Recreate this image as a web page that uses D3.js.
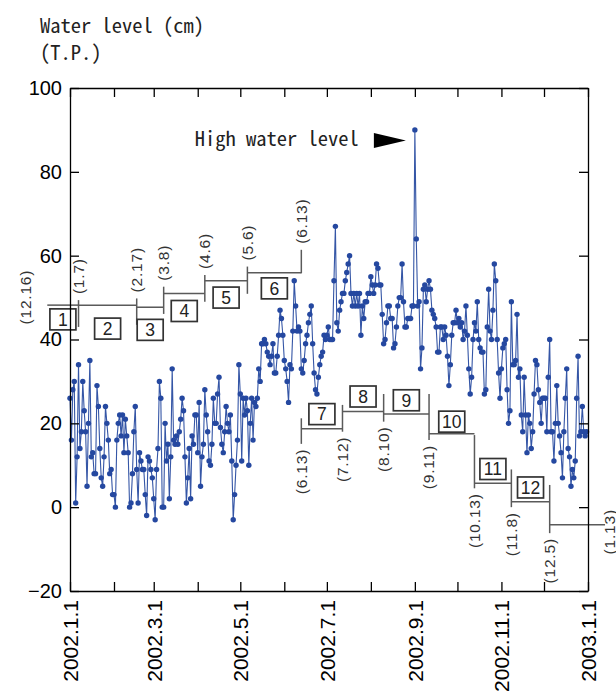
<!DOCTYPE html>
<html>
<head>
<meta charset="utf-8">
<script src="https://cdn.jsdelivr.net/npm/d3@7"></script>
<style>
  body { margin: 0; background: #fff; }
  .mono { font-family: "Noto Sans Mono CJK JP", "Noto Sans CJK JP", "DejaVu Sans Mono", monospace; }
  .date { font-family: "Liberation Sans", Arial, sans-serif; letter-spacing: 0.8px; }
</style>
</head>
<body>
<div id="chart"></div>
<script>
// Daily water level (cm, T.P.), one value per day starting 2002.1.1
const startDate = "2002-01-01";
const levelsJanMar = [
  26, 16, 28, 30, 1, 12, 34, 14, 18, 30,
  23, 18, 5, 20, 35, 12, 13, 8, 8, 29,
  24, 14, 7, 5, 12, 24, 20, 16, 8, 9,
  3, 3, 0, 16, 20, 22, 17, 22, 13, 21,
  17, 13, 0, 1, 8, 18, 24, 9, 1, 13,
  11, 9, 9, 3, -2, 12, 11, 9, 7, 2,
  -3, 9, 14, 30, 26, 0, 0, 20, 11, 15,
  2, 12, 33, 16, 15, 17, 15, 18, 21, 26,
  23, 12, 1, 7, 14, 2, 17, 15, 22
];
const levelsAprJun = [
  22, 13, 25, 5, 12, 15, 28, 22, 18, 11,
  10, 15, 26, 20, 20, 27, 31, 19, 15, 13,
  18, 24, 20, 18, 22, 11, -3, 3, 10, 16,
  34, 27, 11, 26, 22, 26, 23, 10, 20, 26,
  16, 25, 24, 26, 33, 30, 39, 39,
  40, 39, 37, 36, 34, 36, 39, 32,
  32, 36, 41, 47, 45, 41, 35, 33, 30,
  25, 34, 33, 42, 54, 48, 42, 43, 42, 33,
  32, 35, 39, 41, 44, 46, 48, 39, 32, 28,
  27, 31, 34, 36, 37, 41, 40, 41
];
const levelsJulSep = [
  43, 40, 40, 40, 54, 67, 44, 42, 47, 49,
  51, 51, 54, 56, 58, 60, 51, 48,
  51, 48, 51, 48, 51, 41, 48, 45, 49,
  49, 51, 51, 55, 53, 51, 53, 58, 57,
  53, 53, 46, 39, 40, 44, 48, 48, 45, 45,
  38, 39, 43, 48, 50, 50, 58, 49, 43, 43,
  45, 45, 45, 48, 48, 90, 64, 48, 49,
  33, 38, 52, 53, 49, 52, 54, 52, 47, 46,
  45, 43, 37, 37, 43, 43, 40, 43, 41,
  36, 29, 34, 41, 44, 44, 47, 44, 45, 43
];
const levelsOctDec = [
  44, 40, 42, 48, 41, 33, 27, 31, 40, 44,
  42, 49, 40, 38, 37, 37, 27, 28, 43, 52,
  42, 40, 47, 58, 54, 40, 32, 26, 33,
  38, 39, 40, 28, 20, 23, 49, 34, 34,
  35, 46, 31, 33, 22, 18, 31, 22, 13,
  22, 20, 14, 18, 27, 35, 34, 28, 25, 20,
  26, 26, 26, 18, 31, 40, 18, 18, 11,
  20, 29, 20, 17, 13, 7, 18, 26, 33,
  14, 12, 5, 9, 7, 11, 26, 36, 17, 18,
  24, 18, 17, 18
];

// Step annotation: period boundaries, level of each period, boxed numbers
const periodBounds = ["2001-12-16", "2002-01-07", "2002-02-17", "2002-03-08", "2002-04-06",
  "2002-05-06", "2002-06-13", "2002-07-12", "2002-08-10", "2002-09-11", "2002-10-13",
  "2002-11-08", "2002-12-05", "2003-01-13"];
const periodLevels = [48.2, 48.2, 47.7, 51.0, 54.0, 55.9, 18.7, 22.8, 22.2, 17.5, 5.7, 1.3, -4.2];
const boxNumbers = ["1", "2", "3", "4", "5", "6", "7", "8", "9", "10", "11", "12"];
const boxLevels = [44.8, 42.6, 42.3, 46.8, 50.0, 52.2, 22.2, 26.4, 25.5, 20.4, 9.1, 4.7];

// Vertical marks at the boundaries with their date labels
const markDates = ["2002-01-07", "2002-02-17", "2002-03-08", "2002-04-06", "2002-05-06", "2002-06-13",
  "2002-06-13", "2002-07-12", "2002-08-10", "2002-09-11", "2002-10-13", "2002-11-08", "2002-12-05"];
const markTops = [49.4, 49.8, 52.6, 55.4, 57.4, 61.4, 21.2, 24.4, 27.0, 27.0, 17.2, 9.0, 5.3];
const markBottoms = [43.0, 43.5, 46.1, 49.0, 50.9, 55.8, 15.1, 18.0, 20.4, 16.0, 4.5, 0.0, -6.2];
const markLabels = ["(1.7)", "(2.17)", "(3.8)", "(4.6)", "(5.6)", "(6.13)",
  "(6.13)", "(7.12)", "(8.10)", "(9.11)", "(10.13)", "(11.8)", "(12.5)"];
const markSides = ["up", "up", "up", "up", "up", "up", "down", "down", "down", "down", "down", "down", "down"];
const firstLabel = "(12.16)";
const lastLabel = "(1.13)";

// Axes
const xDomain = ["2002-01-01", "2003-01-01"];
const xLabelDates = ["2002-01-01", "2002-03-01", "2002-05-01", "2002-07-01", "2002-09-01", "2002-11-01", "2003-01-01"];
const xLabels = ["2002.1.1", "2002.3.1", "2002.5.1", "2002.7.1", "2002.9.1", "2002.11.1", "2003.1.1"];
const yTicks = [-20, 0, 20, 40, 60, 80, 100];
const yTitle = ["Water level (cm)", "(T.P.)"];
const highWaterText = "High water level";

const parseDate = d3.timeParse("%Y-%m-%d");
const start = parseDate(startDate);
const levels = [].concat(levelsJanMar, levelsAprJun, levelsJulSep, levelsOctDec);
const data = levels.map((v, i) => ({ date: d3.timeDay.offset(start, i), value: v }));

const margin = { top: 88, right: 28, bottom: 102, left: 70 };
const width = 616 - margin.left - margin.right;
const height = 693 - margin.top - margin.bottom;

const root = d3.select("#chart").append("svg")
  .attr("width", 616)
  .attr("height", 693);

const svg = root.append("g")
  .attr("transform", `translate(${margin.left},${margin.top})`);

const x = d3.scaleTime().domain(xDomain.map(parseDate)).range([0, width]);
const y = d3.scaleLinear().domain([-20, 100]).range([height, 0]);

// Title (two lines in one text)
const title = root.append("text")
  .attr("class", "mono")
  .attr("font-size", 20.5)
  .attr("fill", "#222");
title.selectAll("tspan")
  .data(yTitle)
  .join("tspan")
  .attr("x", 40)
  .attr("y", (d, i) => 33 + i * 27)
  .text(d => d);

// Step annotation
const annot = svg.append("g").attr("stroke", "#5a5a5a").attr("stroke-width", 1.5);
periodLevels.forEach((lv, i) => {
  annot.append("line")
    .attr("x1", x(parseDate(periodBounds[i])))
    .attr("x2", x(parseDate(periodBounds[i + 1])))
    .attr("y1", y(lv)).attr("y2", y(lv));
});
markDates.forEach((d, i) => {
  annot.append("line")
    .attr("x1", x(parseDate(d))).attr("x2", x(parseDate(d)))
    .attr("y1", y(markTops[i])).attr("y2", y(markBottoms[i]));
});

const labelSize = 15.5;
markLabels.forEach((t, i) => {
  const px = x(parseDate(markDates[i]));
  const up = markSides[i] === "up";
  const py = up ? y(markTops[i]) - 6 : y(markBottoms[i]) + 5;
  svg.append("text")
    .attr("class", "date")
    .attr("transform", `translate(${px},${py}) rotate(-90)`)
    .attr("dy", "0.35em")
    .attr("text-anchor", up ? "start" : "end")
    .attr("font-size", labelSize)
    .attr("fill", "#333")
    .text(t);
});
svg.append("text")
  .attr("class", "date")
  .attr("transform", `translate(${x(parseDate(periodBounds[0])) - 22},${y(periodLevels[0]) - 8}) rotate(-90)`)
  .attr("dy", "0.35em")
  .attr("text-anchor", "middle")
  .attr("font-size", labelSize)
  .attr("fill", "#333")
  .text(firstLabel);
svg.append("text")
  .attr("class", "date")
  .attr("transform", `translate(${x(parseDate(periodBounds[periodBounds.length - 1])) + 5},${y(periodLevels[periodLevels.length - 1]) + 7}) rotate(-90)`)
  .attr("dy", "0.35em")
  .attr("text-anchor", "middle")
  .attr("font-size", labelSize)
  .attr("fill", "#333")
  .text(lastLabel);

// Numbered boxes at the middle of each period
const boxW = 26, boxH = 21;
boxNumbers.forEach((n, i) => {
  const a = parseDate(periodBounds[i]), b = parseDate(periodBounds[i + 1]);
  const cx = x(new Date((+a + +b) / 2));
  const cy = y(boxLevels[i]);
  svg.append("rect")
    .attr("x", cx - boxW / 2).attr("y", cy - boxH / 2)
    .attr("width", boxW).attr("height", boxH)
    .attr("fill", "#fff").attr("stroke", "#333").attr("stroke-width", 1.7);
  svg.append("text")
    .attr("x", cx).attr("y", cy)
    .attr("dy", "0.36em")
    .attr("text-anchor", "middle")
    .attr("font-family", "Liberation Sans, Arial, sans-serif")
    .attr("font-size", 17.5)
    .attr("fill", "#222")
    .text(n);
});

// Series
const line = d3.line()
  .x(d => x(d.date))
  .y(d => y(d.value));

svg.append("path")
  .datum(data)
  .attr("fill", "none")
  .attr("stroke", "#3556a6")
  .attr("stroke-width", 1.1)
  .attr("d", line);

svg.append("g")
  .selectAll("circle")
  .data(data)
  .join("circle")
  .attr("cx", d => x(d.date))
  .attr("cy", d => y(d.value))
  .attr("r", 2.7)
  .attr("fill", "#2548a0");

// High water level note
const peak = data.reduce((a, b) => (b.value > a.value ? b : a));
const px = x(peak.date), py = y(peak.value);
svg.append("text")
  .attr("class", "mono")
  .attr("x", px - 56).attr("y", py + 16)
  .attr("text-anchor", "end")
  .attr("font-size", 20.5)
  .attr("fill", "#222")
  .text(highWaterText);
svg.append("path")
  .attr("d", `M${px - 41},${py + 3} L${px - 9},${py + 10.5} L${px - 41},${py + 18} Z`)
  .attr("fill", "#000");

// Axes
const labelMap = new Map(xLabelDates.map((d, i) => [+parseDate(d), xLabels[i]]));
const months = d3.timeMonth.range(x.domain()[0], d3.timeDay.offset(x.domain()[1], 1));

const xAxis = svg.append("g")
  .attr("transform", `translate(0,${height})`)
  .call(d3.axisBottom(x).tickValues(months).tickSizeInner(-9).tickSizeOuter(0)
    .tickFormat(d => labelMap.get(+d) || ""));
xAxis.selectAll("text")
  .attr("transform", "rotate(-90)")
  .attr("x", -9).attr("y", 0)
  .attr("dy", "0.35em")
  .style("text-anchor", "end")
  .attr("font-size", 21)
  .attr("font-family", "Liberation Sans, Arial, sans-serif")
  .attr("fill", "#000");

svg.append("g")
  .call(d3.axisTop(x).tickValues(months).tickSizeInner(-9).tickSizeOuter(0).tickFormat(""));

const yAxis = svg.append("g")
  .call(d3.axisLeft(y).tickValues(yTicks).tickSizeInner(-9).tickSizeOuter(0).tickPadding(8));
yAxis.selectAll("text")
  .attr("font-size", 20)
  .attr("font-family", "Liberation Sans, Arial, sans-serif")
  .attr("fill", "#000");

svg.append("g")
  .attr("transform", `translate(${width},0)`)
  .call(d3.axisRight(y).tickValues(yTicks).tickSizeInner(-9).tickSizeOuter(0).tickFormat(""));

svg.selectAll(".domain, .tick line")
  .attr("stroke", "#000")
  .attr("stroke-width", 1.3);
</script>
</body>
</html>
